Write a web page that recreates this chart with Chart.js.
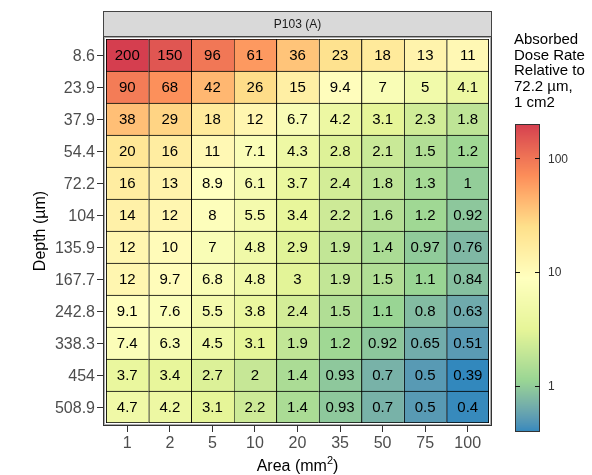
<!DOCTYPE html>
<html><head><meta charset="utf-8">
<script src="https://cdn.jsdelivr.net/npm/chart.js@4"></script>
<style>html,body{margin:0;padding:0;background:#fff}#wrap{width:592px;height:475px}</style>
</head><body><div id="wrap"><canvas id="c" width="592" height="475"></canvas></div>
<script>
const depths = ["8.6","23.9","37.9","54.4","72.2","104","135.9","167.7","242.8","338.3","454","508.9"];
const areas = ["1","2","5","10","20","35","50","75","100"];
const row_8_6   = [200,150,96,61,36,23,18,13,11];
const row_23_9  = [90,68,42,26,15,9.4,7,5,4.1];
const row_37_9  = [38,29,18,12,6.7,4.2,3.1,2.3,1.8];
const row_54_4  = [20,16,11,7.1,4.3,2.8,2.1,1.5,1.2];
const row_72_2  = [16,13,8.9,6.1,3.7,2.4,1.8,1.3,1];
const row_104   = [14,12,8,5.5,3.4,2.2,1.6,1.2,0.92];
const row_135_9 = [12,10,7,4.8,2.9,1.9,1.4,0.97,0.76];
const row_167_7 = [12,9.7,6.8,4.8,3,1.9,1.5,1.1,0.84];
const row_242_8 = [9.1,7.6,5.5,3.8,2.4,1.5,1.1,0.8,0.63];
const row_338_3 = [7.4,6.3,4.5,3.1,1.9,1.2,0.92,0.65,0.51];
const row_454   = [3.7,3.4,2.7,2,1.4,0.93,0.7,0.5,0.39];
const row_508_9 = [4.7,4.2,3.1,2.2,1.4,0.93,0.7,0.5,0.4];
const doseRows = [row_8_6,row_23_9,row_37_9,row_54_4,row_72_2,row_104,row_135_9,row_167_7,row_242_8,row_338_3,row_454,row_508_9];
const colorbarTicks = [1,10,100];
const legendTitle = ["Absorbed","Dose Rate","Relative to","72.2 \u00b5m,","1 cm2"];
const panelTitle = "P103 (A)";
const xTitleParts = ["Area (mm","2",")"];
const yTitle = "Depth (\u00b5m)";
const palette = ["#3288BD","#99D594","#E6F598","#FFFFBF","#FEE08B","#FC8D59","#D53E4F"];

const FONT = "'Liberation Sans', Arial, sans-serif";
const allVals = doseRows.flat();
const vMin = Math.min(...allVals), vMax = Math.max(...allVals);
const lMin = Math.log10(vMin), lMax = Math.log10(vMax);

function hex2rgb(h){return [parseInt(h.slice(1,3),16),parseInt(h.slice(3,5),16),parseInt(h.slice(5,7),16)];}
function lin(c){c/=255;return c<=0.04045?c/12.92:Math.pow((c+0.055)/1.055,2.4);}
function unlin(c){c=c<=0.0031308?12.92*c:1.055*Math.pow(c,1/2.4)-0.055;return Math.max(0,Math.min(255,Math.round(c*255)));}
function rgb2lab(rgb){
  const r=lin(rgb[0]),g=lin(rgb[1]),b=lin(rgb[2]);
  let x=(r*0.4124+g*0.3576+b*0.1805)/0.95047, y=(r*0.2126+g*0.7152+b*0.0722), z=(r*0.0193+g*0.1192+b*0.9505)/1.08883;
  const f=t=>t>0.008856?Math.cbrt(t):(7.787*t+16/116);
  x=f(x);y=f(y);z=f(z);
  return [116*y-16,500*(x-y),200*(y-z)];
}
function lab2rgb(lab){
  let y=(lab[0]+16)/116, x=lab[1]/500+y, z=y-lab[2]/200;
  const fi=t=>t*t*t>0.008856?t*t*t:(t-16/116)/7.787;
  x=fi(x)*0.95047;y=fi(y);z=fi(z)*1.08883;
  const r=x*3.2406+y*-1.5372+z*-0.4986, g=x*-0.9689+y*1.8758+z*0.0415, b=x*0.0557+y*-0.2040+z*1.0570;
  return [unlin(r),unlin(g),unlin(b)];
}
const palLab = palette.map(h=>rgb2lab(hex2rgb(h)));
function colorAt(t){
  t=Math.max(0,Math.min(1,t));
  const n=palLab.length-1, p=t*n, i=Math.min(n-1,Math.floor(p)), f=p-i;
  const a=palLab[i],b=palLab[i+1];
  const c=lab2rgb([a[0]+(b[0]-a[0])*f,a[1]+(b[1]-a[1])*f,a[2]+(b[2]-a[2])*f]);
  return `rgb(${c[0]},${c[1]},${c[2]})`;
}
function colorFor(v){return colorAt((Math.log10(v)-lMin)/(lMax-lMin));}

const datasets = areas.map((a,j)=>({
  label: a,
  data: depths.map(()=>[j,j+1]),
  backgroundColor: depths.map((d,i)=>colorFor(doseRows[i][j])),
  borderColor: '#000',
  borderSkipped: false,
  borderWidth: (ctx)=>({top:1.2,left:1.2,right:j===areas.length-1?1.2:0,bottom:ctx.dataIndex===depths.length-1?1.2:0}),
  grouped: false,
  barPercentage: 1,
  categoryPercentage: 1
}));

const decor = {
  id:'decor',
  afterDatasetsDraw(chart){
    const ctx=chart.ctx;
    ctx.save();
    ctx.font=`15px ${FONT}`;ctx.fillStyle='#000';ctx.textAlign='center';ctx.textBaseline='middle';
    chart.data.datasets.forEach((ds,j)=>{
      chart.getDatasetMeta(j).data.forEach((el,i)=>{
        const p=el.getProps(['x','base','y'],true);
        ctx.fillText(String(doseRows[i][j]),(p.x+p.base)/2,p.y+1);
      });
    });
    ctx.restore();
  },
  afterDraw(chart){
    const ctx=chart.ctx, ca=chart.chartArea;
    const L=ca.left-3,R=ca.right+3,T=ca.top-3,B=ca.bottom+3;
    ctx.save();
    ctx.fillStyle='#fff';
    ctx.beginPath();ctx.rect(L,T,R-L,B-T);ctx.rect(ca.left,ca.top,ca.right-ca.left,ca.bottom-ca.top);
    ctx.fill('evenodd');
    ctx.strokeStyle='#333';ctx.lineWidth=1;
    ctx.strokeRect(L+0.5,T+0.5,R-L-1,B-T-1);
    ctx.strokeStyle='#aaa';
    ctx.strokeRect(L+1.5,T+1.5,R-L-3,B-T-3);
    const sT=11;
    ctx.fillStyle='#D9D9D9';ctx.fillRect(L,sT,R-L,T-sT);
    ctx.strokeStyle='#444';ctx.strokeRect(L+0.5,sT+0.5,R-L-1,T-sT);
    ctx.fillStyle='#1a1a1a';ctx.font=`12px ${FONT}`;ctx.textAlign='center';ctx.textBaseline='middle';
    ctx.fillText(panelTitle,(L+R)/2,(sT+T)/2+1);
    // x title with superscript
    ctx.fillStyle='#000';ctx.font=`16px ${FONT}`;ctx.textAlign='left';
    const f1=`16px ${FONT}`, f2=`11px ${FONT}`;
    ctx.font=f1;const w1=ctx.measureText(xTitleParts[0]).width, w3=ctx.measureText(xTitleParts[2]).width;
    ctx.font=f2;const w2=ctx.measureText(xTitleParts[1]).width;
    let x0=(ca.left+ca.right)/2-(w1+w2+w3)/2;const ty=467;
    ctx.font=f1;ctx.fillText(xTitleParts[0],x0,ty);
    ctx.font=f2;ctx.fillText(xTitleParts[1],x0+w1,ty-6);
    ctx.font=f1;ctx.fillText(xTitleParts[2],x0+w1+w2,ty);
    ctx.textAlign='center';
    ctx.save();ctx.translate(41,(ca.top+ca.bottom)/2);ctx.rotate(-Math.PI/2);ctx.fillText(yTitle,0,0);ctx.restore();
    ctx.textAlign='left';ctx.font=`15px ${FONT}`;
    legendTitle.forEach((s,k)=>ctx.fillText(s,514,40+k*15.6));
    const cx0=515,cx1=540,cy0=124,cy1=432;
    for(let y=cy0;y<cy1;y++){
      ctx.fillStyle=colorAt(1-((y+0.5-cy0)/(cy1-cy0)));
      ctx.fillRect(cx0,y,cx1-cx0,1);
    }
    ctx.strokeStyle='#333';ctx.lineWidth=1;ctx.strokeRect(cx0+0.5,cy0+0.5,cx1-cx0-1,cy1-cy0-1);
    ctx.fillStyle='#333';ctx.font=`12px ${FONT}`;
    colorbarTicks.forEach(v=>{
      const y=cy1-(Math.log10(v)-lMin)/(lMax-lMin)*(cy1-cy0);
      ctx.strokeStyle='#111';
      ctx.beginPath();ctx.moveTo(cx0,Math.round(y)+0.5);ctx.lineTo(cx0+5,Math.round(y)+0.5);
      ctx.moveTo(cx1-5,Math.round(y)+0.5);ctx.lineTo(cx1,Math.round(y)+0.5);ctx.stroke();
      ctx.fillText(String(v),548,y+1);
    });
    ctx.restore();
  }
};

new Chart(document.getElementById('c'),{
  type:'bar',
  data:{labels:depths,datasets},
  options:{
    indexAxis:'y',
    responsive:false,
    animation:false,
    events:[],
    layout:{padding:{left:0,top:39,right:103,bottom:0}},
    plugins:{legend:{display:false},tooltip:{enabled:false}},
    scales:{
      y:{type:'category',labels:depths,offset:true,
        grid:{display:true,drawOnChartArea:false,drawTicks:true,tickLength:9,tickColor:'#333',offset:false},
        border:{display:false},
        ticks:{color:'#4d4d4d',font:{size:16,family:FONT},padding:2,autoSkip:false,labelOffset:2},
        afterFit:s=>{s.width=106;}},
      x:{type:'linear',min:0,max:9,
        grid:{display:true,drawOnChartArea:false,drawTicks:true,tickLength:9,tickColor:'#333'},
        border:{display:false},
        afterBuildTicks:s=>{s.ticks=areas.map((a,j)=>({value:j+0.5}));},
        ticks:{color:'#4d4d4d',font:{size:16,family:FONT},padding:2,autoSkip:false,maxRotation:0,
          callback:(v)=>areas[Math.floor(v)]},
        afterFit:s=>{s.height=52;}}
    }
  },
  plugins:[decor]
});
</script></body></html>
